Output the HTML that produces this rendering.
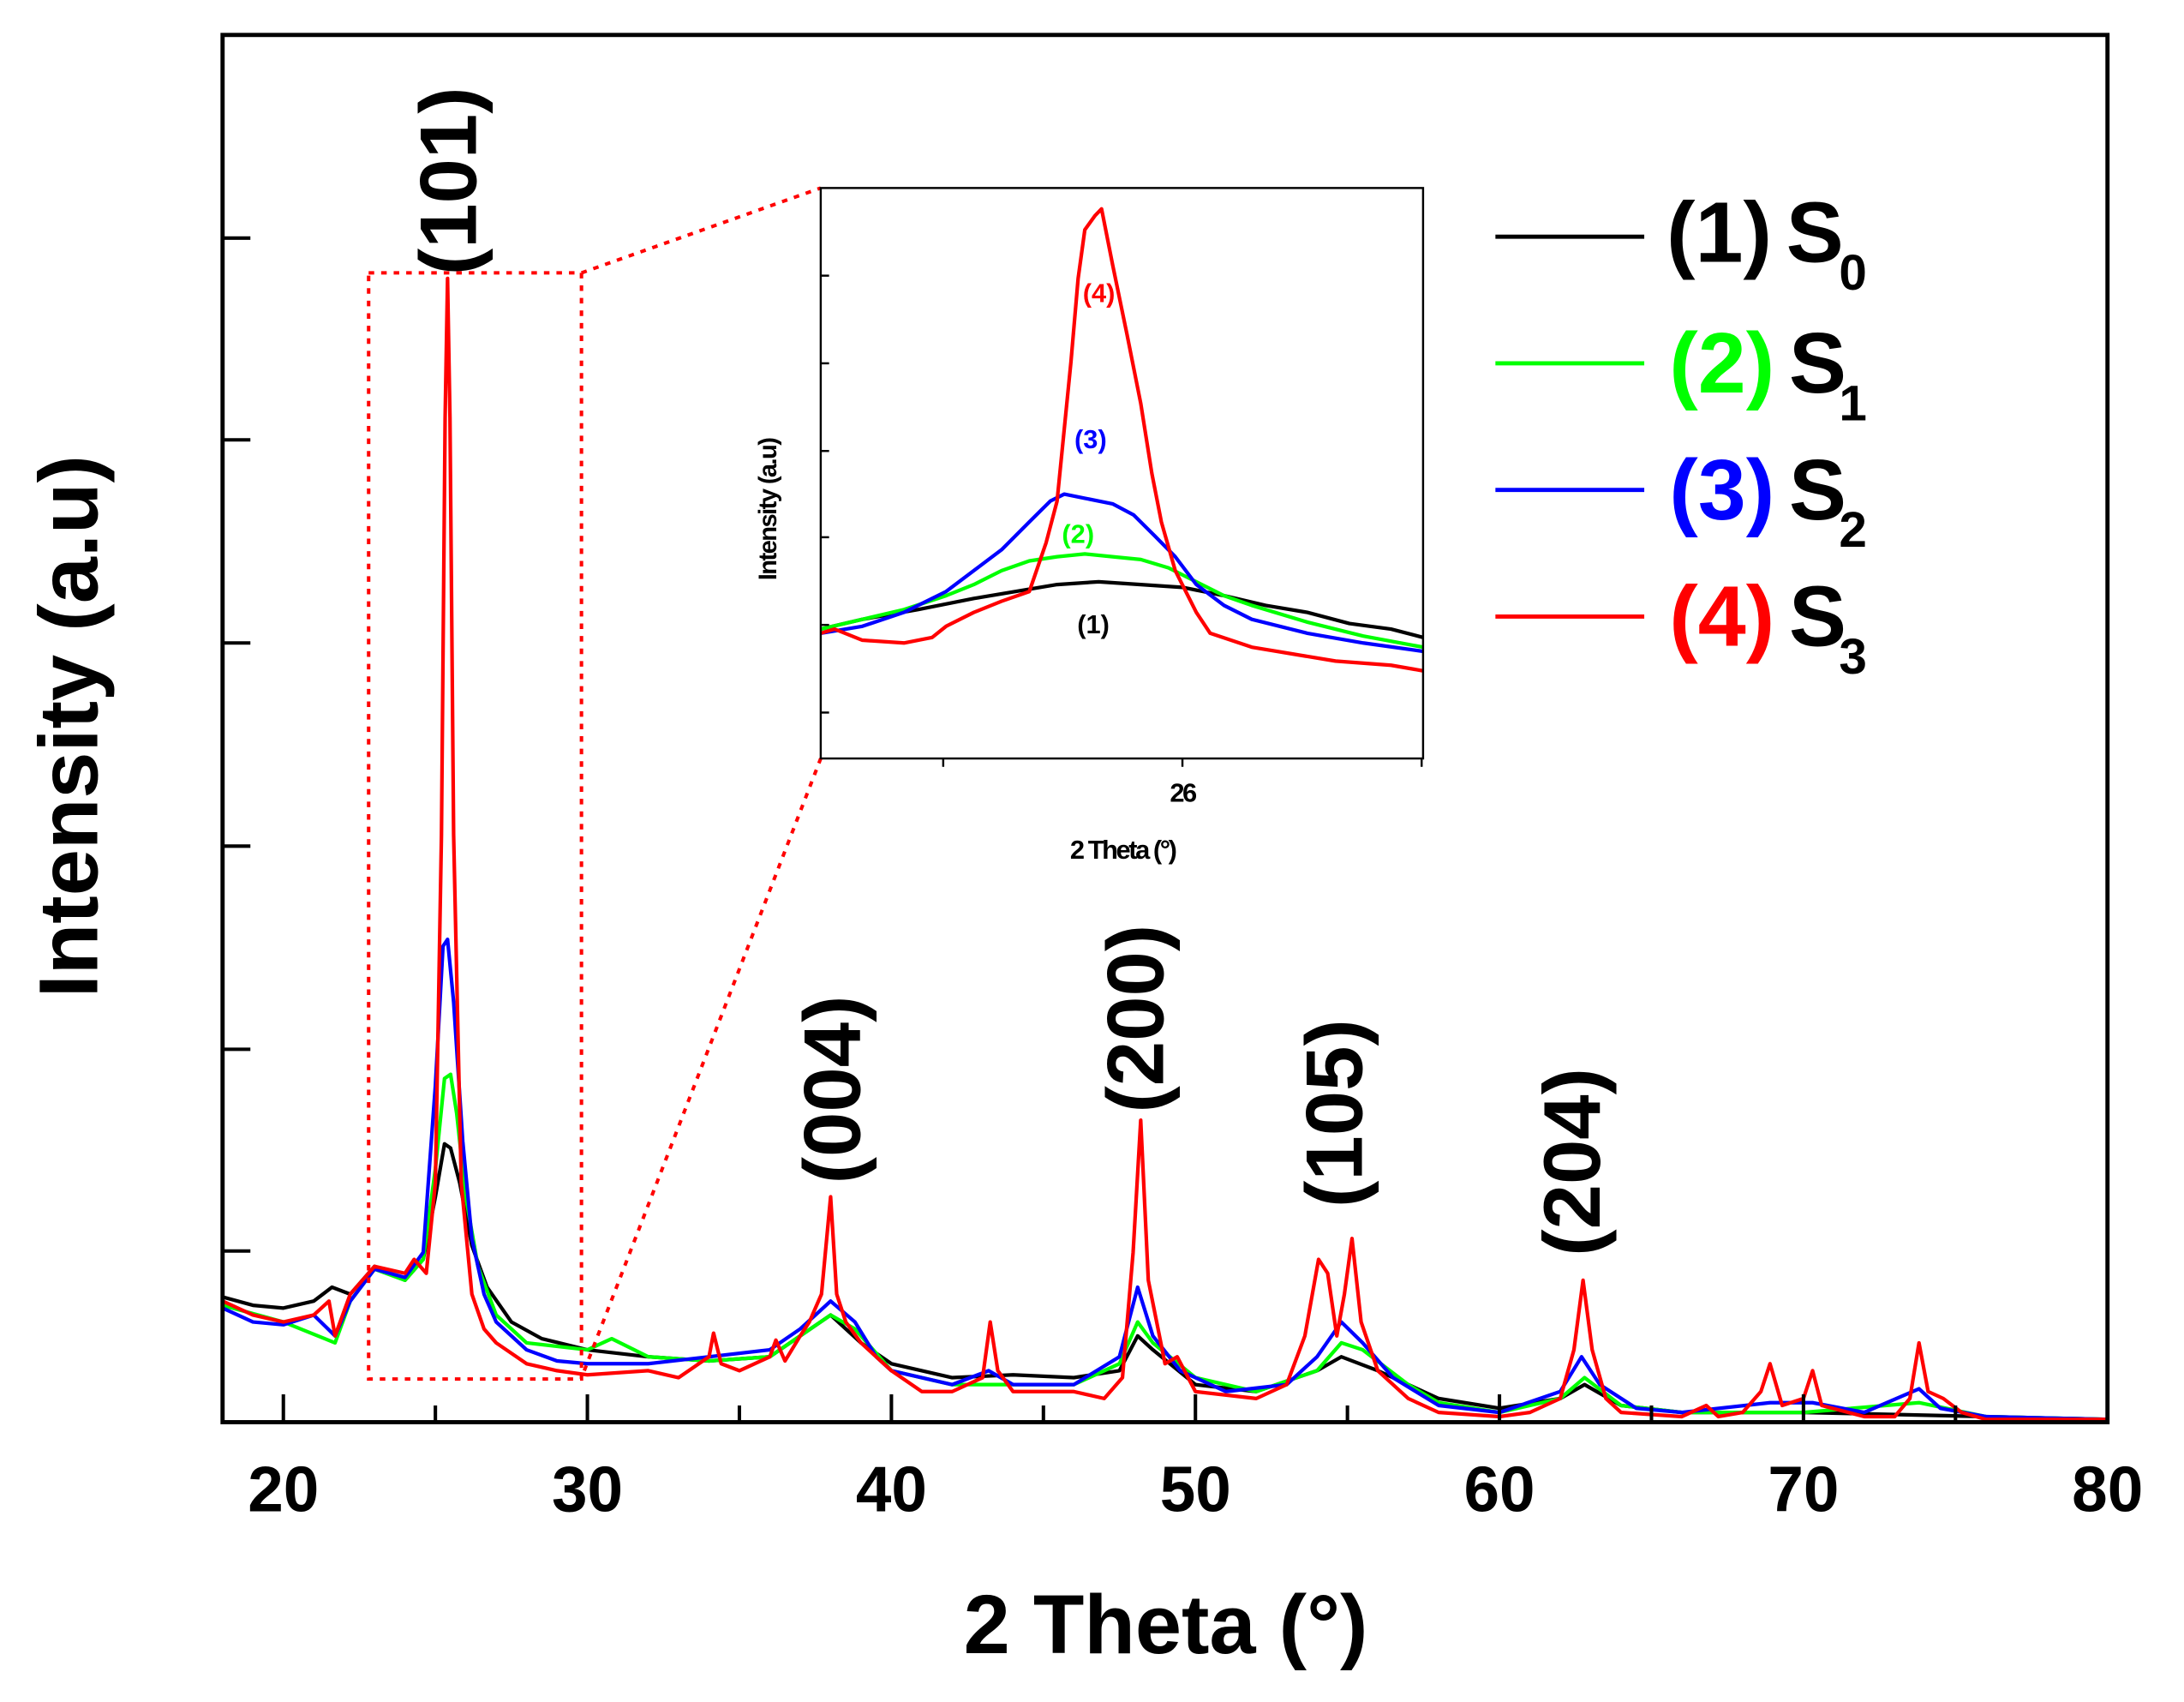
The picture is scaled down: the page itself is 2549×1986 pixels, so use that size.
<!DOCTYPE html>
<html><head><meta charset="utf-8"><style>
html,body{margin:0;padding:0;background:#fff;}
svg{display:block;}
text{font-family:"Liberation Sans",Arial,sans-serif;font-weight:bold;}
</style></head><body>
<svg id="chart" xmlns="http://www.w3.org/2000/svg" width="2549" height="1986" viewBox="0 0 1570 1223">
<defs>
<clipPath id="mainclip"><rect x="160" y="25" width="1355" height="997"/></clipPath>
<clipPath id="insetclip"><rect x="590" y="135" width="433" height="410"/></clipPath>
</defs>
<g id="main-series" clip-path="url(#mainclip)"></g>
<rect x="160" y="25" width="1355" height="997" fill="none" stroke="#000" stroke-width="3"/>
<g id="main-axes"></g>
<g fill="none" stroke="#f00" stroke-width="2.5" stroke-dasharray="4,5">
<rect x="265" y="196" width="153" height="795"/>
<line x1="418" y1="196" x2="590" y2="135"/>
<line x1="420" y1="985" x2="590" y2="545"/>
</g>
<rect x="590" y="135" width="433" height="410" fill="#fff"/>
<g id="inset-series" clip-path="url(#insetclip)"></g>
<rect x="590" y="135" width="433" height="410" fill="none" stroke="#000" stroke-width="1.5"/>
<g id="inset-axes"></g>
<text x="790" y="217" font-size="19" fill="#f00" text-anchor="middle">(4)</text>
<text x="784" y="322" font-size="19" fill="#00f" text-anchor="middle">(3)</text>
<text x="775" y="390" font-size="19" fill="#0f0" text-anchor="middle">(2)</text>
<text x="786" y="455" font-size="19" fill="#000" text-anchor="middle">(1)</text>
<text x="807" y="617" font-size="19" text-anchor="middle" letter-spacing="-1.5">2 Theta (°)</text>
<text transform="translate(558,366) rotate(-90)" font-size="18" text-anchor="middle" letter-spacing="-1">Intensity (a.u)</text>
<g font-size="58">
<text transform="translate(342,130) rotate(-90)" text-anchor="middle">(101)</text>
<text transform="translate(618,783) rotate(-90)" text-anchor="middle">(004)</text>
<text transform="translate(836,732) rotate(-90)" text-anchor="middle">(200)</text>
<text transform="translate(979,800) rotate(-90)" text-anchor="middle">(105)</text>
<text transform="translate(1150,835) rotate(-90)" text-anchor="middle">(204)</text>
</g>
<g>
<g><line x1="1075" y1="170" x2="1182" y2="170" stroke="#000" stroke-width="3"/><text x="1198" y="188" font-size="62" fill="#000">(1)</text><text x="1284" y="188" font-size="62">S</text><text x="1322" y="208" font-size="36">0</text></g>
<g><line x1="1075" y1="261" x2="1182" y2="261" stroke="#0f0" stroke-width="3"/><text x="1200" y="282" font-size="62" fill="#0f0">(2)</text><text x="1286" y="282" font-size="62">S</text><text x="1322" y="302" font-size="36">1</text></g>
<g><line x1="1075" y1="352" x2="1182" y2="352" stroke="#00f" stroke-width="3"/><text x="1200" y="373" font-size="62" fill="#00f">(3)</text><text x="1286" y="373" font-size="62">S</text><text x="1322" y="393" font-size="36">2</text></g>
<g><line x1="1075" y1="443" x2="1182" y2="443" stroke="#f00" stroke-width="3"/><text x="1200" y="464" font-size="62" fill="#f00">(4)</text><text x="1286" y="464" font-size="62">S</text><text x="1322" y="484" font-size="36">3</text></g>
</g>
<text x="838" y="1188" font-size="60" text-anchor="middle">2 Theta (°)</text>
<text transform="translate(70,522) rotate(-90)" font-size="60" text-anchor="middle">Intensity (a.u)</text>
</svg>
<script>
// ---- main chart data (intensity a.u.) ----
const xTicks = [20,30,40,50,60,70,80];
const xMinorTicks = [25,35,45,55,65,75];
const yTicks = [123,268,414,560,706,851];
const blackS0 = [[18,90],[19,84],[20,82],[21,87],[21.6,97],[22.2,92],[23,112],[24,102],[24.6,117],[25.0,162],[25.3,200],[25.5,197],[25.8,172],[26.2,127],[26.7,97],[27.5,72],[28.5,60],[30,52],[32,47],[34,44],[36,47],[38,77],[39,57],[40,42],[42,32],[44,34],[46,32],[47.5,37],[48.1,62],[48.6,52],[50,27],[52,22],[54,37],[54.8,47],[56,37],[58,17],[60,10],[62,17],[62.8,27],[64,12],[66,7],[70,7],[76,4],[80,2]];
const greenS1 = [[18,84],[20,72],[21.7,57],[22.2,87],[23,110],[24,102],[24.6,117],[25.0,182],[25.3,247],[25.5,250],[25.7,222],[26,162],[26.4,112],[27,77],[28,57],[30,52],[30.8,60],[32,47],[34,44],[36,47],[38,77],[38.8,67],[40,37],[42,27],[44,27],[46,27],[47.5,42],[48.1,72],[48.6,57],[50,32],[52,22],[54,37],[54.8,57],[55.5,52],[57,27],[58,14],[60,7],[62,17],[62.8,32],[64,12],[66,7],[70,7],[73.8,14],[76,4],[80,2]];
const blueS2 = [[18,82],[19,72],[20,70],[21,77],[21.7,62],[22.2,87],[23,110],[24,104],[24.6,122],[25.0,242],[25.25,342],[25.4,347],[25.6,302],[25.9,202],[26.2,132],[26.6,92],[27,72],[28,52],[29,44],[30,42],[32,42],[34,47],[36,52],[37,67],[38,87],[38.8,72],[39.5,47],[40,37],[42,27],[43.2,37],[44,27],[46,27],[47.5,47],[48.1,97],[48.6,62],[49.5,37],[51,22],[53,27],[54,47],[54.8,72],[55.5,57],[56.5,32],[58,12],[60,7],[62,22],[62.7,47],[63.3,27],[64.5,10],[66,7],[68.9,14],[70.3,14],[72,7],[73.8,24],[74.5,10],[76,4],[80,2]];
const redS3 = [[18,87],[19,77],[20,72],[21,77],[21.5,87],[21.7,62],[22.2,92],[23,112],[24,107],[24.3,117],[24.7,107],[25.0,172],[25.2,422],[25.32,722],[25.4,822],[25.48,722],[25.6,422],[25.85,172],[26.2,92],[26.6,67],[27,57],[28,42],[29,37],[30,34],[32,37],[33,32],[34,47],[34.15,64],[34.4,42],[35,37],[36,47],[36.2,59],[36.5,44],[37,62],[37.3,72],[37.7,92],[38.0,162],[38.2,92],[38.5,72],[39,57],[40,37],[41,22],[42,22],[43,32],[43.25,72],[43.5,37],[44,22],[46,22],[47,17],[47.6,32],[47.95,122],[48.2,217],[48.45,102],[49,42],[49.4,47],[50,22],[52,17],[53,27],[53.6,62],[54.05,117],[54.35,107],[54.65,62],[54.9,92],[55.15,132],[55.45,72],[56,37],[57,17],[58,7],[60,4],[61,7],[62,17],[62.45,52],[62.75,102],[63.05,52],[63.5,17],[64,7],[66,4],[66.8,12],[67.2,4],[68,7],[68.6,22],[68.9,42],[69.3,12],[70,17],[70.3,37],[70.6,12],[72,4],[73,4],[73.5,17],[73.8,57],[74.1,22],[74.6,17],[75.2,7],[76,2],[80,2]];
// ---- inset data ----
const insetXTicks = [25.5,26.0,26.5];
const insetXLabels = ["","26",""];
const insetYTicks = [33,96,159,221,284,347];
const insetBlack = [[25.244,93],[25.331,100],[25.447,107],[25.564,115],[25.651,120],[25.738,125],[25.825,127],[25.913,125],[26.0,123],[26.087,117],[26.174,110],[26.261,105],[26.349,97],[26.436,93],[26.503,87]];
const insetGreen = [[25.244,93],[25.331,100],[25.418,107],[25.506,117],[25.564,125],[25.622,135],[25.680,142],[25.738,145],[25.796,147],[25.854,145],[25.913,143],[25.971,137],[26.029,127],[26.087,117],[26.145,110],[26.261,98],[26.378,88],[26.503,80]];
const insetBlue = [[25.244,90],[25.331,95],[25.418,105],[25.506,120],[25.564,135],[25.622,150],[25.680,170],[25.724,185],[25.753,190],[25.796,187],[25.854,183],[25.898,175],[25.942,160],[25.985,145],[26.029,125],[26.087,110],[26.145,100],[26.261,90],[26.378,83],[26.503,77]];
const insetRed = [[25.244,90],[25.273,93],[25.331,85],[25.418,83],[25.477,87],[25.506,95],[25.564,105],[25.622,113],[25.680,120],[25.715,155],[25.738,185],[25.767,285],[25.782,345],[25.796,380],[25.817,390],[25.831,395],[25.854,355],[25.884,305],[25.913,255],[25.936,205],[25.956,170],[25.985,135],[26.029,105],[26.058,90],[26.145,80],[26.232,75],[26.320,70],[26.436,67],[26.503,63]];

const NS = 'http://www.w3.org/2000/svg';
const X0=18, X1=80, PL=160, PR=1515, PB=1022, PT=25;
function xs(v){ return PL + (v-X0)/(X1-X0)*(PR-PL); }
function ys(v){ return PB - v; }
const IX0=25.244, IX1=26.503, IL=590, IR=1023, IB=545;
function ixs(v){ return IL + (v-IX0)/(IX1-IX0)*(IR-IL); }
function iys(v){ return IB - v; }

function mk(tag, attrs, parent){
  const e=document.createElementNS(NS,tag);
  for(const k in attrs) e.setAttribute(k,attrs[k]);
  parent.appendChild(e); return e;
}
function pathD(data, fx, fy){
  return data.map((p,i)=>(i?'L':'M')+fx(p[0]).toFixed(2)+','+fy(p[1]).toFixed(2)).join('');
}
const mainG=document.getElementById('main-series');
const series=[['series-s0',blackS0,'#000'],['series-s1',greenS1,'#0f0'],['series-s2',blueS2,'#00f'],['series-s3',redS3,'#f00']];
series.forEach(s=>{
  const p=mk('path',{d:pathD(s[1],xs,ys),fill:'none',stroke:s[2],'stroke-width':2.6,'stroke-linejoin':'round'},mainG);
  
  
});
const axG=document.getElementById('main-axes');
xTicks.forEach(v=>{
  const t=mk('line',{x1:xs(v),x2:xs(v),y1:PB,y2:PB-20,stroke:'#000','stroke-width':2.5},axG);
  
  
  const l=mk('text',{x:xs(v),y:PB+64,'font-size':46,'text-anchor':'middle'},axG);
  l.textContent=String(v);
  
  
});
xMinorTicks.forEach(v=>{
  const t=mk('line',{x1:xs(v),x2:xs(v),y1:PB,y2:PB-12,stroke:'#000','stroke-width':2.5},axG);
  
  
});
yTicks.forEach(v=>{
  const t=mk('line',{x1:PL,x2:PL+20,y1:ys(v),y2:ys(v),stroke:'#000','stroke-width':2.5},axG);
  
  
});
const inG=document.getElementById('inset-series');
const iseries=[['inset-series-s0',insetBlack,'#000'],['inset-series-s1',insetGreen,'#0f0'],['inset-series-s2',insetBlue,'#00f'],['inset-series-s3',insetRed,'#f00']];
iseries.forEach(s=>{
  const p=mk('path',{d:pathD(s[1],ixs,iys),fill:'none',stroke:s[2],'stroke-width':2.6,'stroke-linejoin':'round'},inG);
  
  
});
const iaG=document.getElementById('inset-axes');
insetXTicks.forEach((v,i)=>{
  const t=mk('line',{x1:ixs(v),x2:ixs(v),y1:IB,y2:IB+6,stroke:'#000','stroke-width':1.5},iaG);
  
  
  if(insetXLabels[i]){
    const l=mk('text',{x:ixs(v),y:IB+31,'font-size':19,'text-anchor':'middle','letter-spacing':'-1.5'},iaG);
    l.textContent=insetXLabels[i];
    
    
  }
});
insetYTicks.forEach(v=>{
  const t=mk('line',{x1:IL,x2:IL+6,y1:iys(v),y2:iys(v),stroke:'#000','stroke-width':1.5},iaG);
  
  
});
</script>
</body></html>
